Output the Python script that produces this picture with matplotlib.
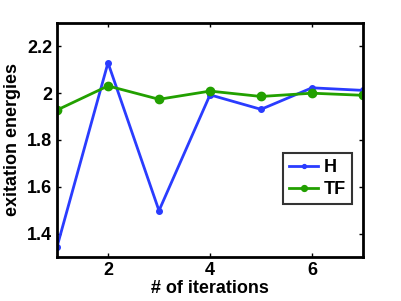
import matplotlib
matplotlib.use("Agg")
import matplotlib.pyplot as plt

plt.rcParams['font.family'] = ['Liberation Sans', 'DejaVu Sans']
plt.rcParams['font.weight'] = 'bold'

iterations = [1, 2, 3, 4, 5, 6, 7]
h_energy = [1.343, 2.13, 1.498, 1.993, 1.931, 2.023, 2.012]
tf_energy = [1.928, 2.031, 1.974, 2.009, 1.986, 2.0, 1.991]

fig = plt.figure(figsize=(4.01, 3.01), dpi=100)
ax = fig.add_axes([57/401, 1 - 257/301, 306/401, 234/301])

ax.plot(iterations, h_energy, color='#2a3cff', lw=2, marker='o', ms=4, label='H')
ax.plot(iterations, tf_energy, color='#22a000', lw=2, marker='o', ms=6, label='TF')

ax.set_xlim(1, 7)
ax.set_ylim(1.3, 2.3)
ax.set_xticks([2, 4, 6])
ax.set_yticks([1.4, 1.6, 1.8, 2.0, 2.2])
ax.set_yticklabels(['1.4', '1.6', '1.8', '2', '2.2'])
ax.tick_params(direction='in', top=True, right=True, length=3, width=1, labelsize=13)
for s in ax.spines.values():
    s.set_linewidth(2)
ax.set_xlabel('# of iterations', fontsize=13, fontweight='bold', labelpad=1)
ax.set_ylabel('exitation energies', fontsize=13, fontweight='bold', labelpad=4)

leg = ax.legend(loc='upper left', bbox_to_anchor=(226/306, (257-153)/234),
                fontsize=13, frameon=True, fancybox=False, edgecolor='black',
                handlelength=1.6, borderpad=0.35, labelspacing=0.25, handletextpad=0.3,
                borderaxespad=0, markerscale=0.7)
leg.get_frame().set_linewidth(1.5)
for t in leg.get_texts():
    t.set_fontweight('bold')

fig.savefig('out.png', dpi=100)
